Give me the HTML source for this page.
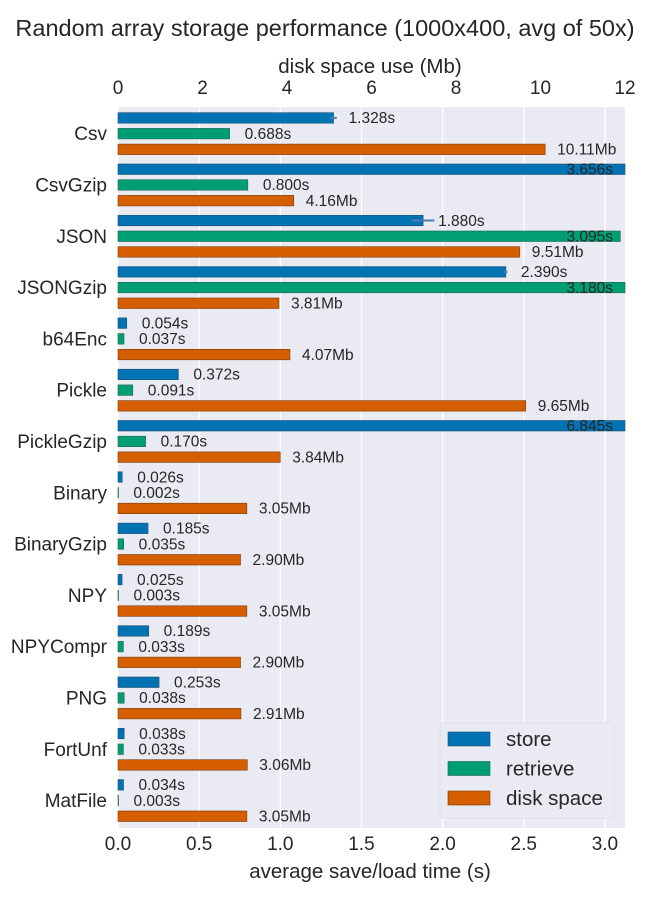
<!DOCTYPE html>
<html><head><meta charset="utf-8"><style>
body{margin:0;background:#fff;font-family:"Liberation Sans","DejaVu Sans",sans-serif}
svg text{font-family:"Liberation Sans","DejaVu Sans",sans-serif;fill:#262626}
</style></head><body>
<svg id="c" width="650" height="900"></svg>
<script>
const categories=["Csv","CsvGzip","JSON","JSONGzip","b64Enc","Pickle","PickleGzip","Binary","BinaryGzip","NPY","NPYCompr","PNG","FortUnf","MatFile"];
const storeVals=[1.328,3.656,1.880,2.390,0.054,0.372,6.845,0.026,0.185,0.025,0.189,0.253,0.038,0.034];
const retrieveVals=[0.688,0.800,3.095,3.180,0.037,0.091,0.170,0.002,0.035,0.003,0.033,0.038,0.033,0.003];
const diskVals=[10.11,4.16,9.51,3.81,4.07,9.65,3.84,3.05,2.90,3.05,2.90,2.91,3.06,3.05];
const timeTicks=[0,0.5,1.0,1.5,2.0,2.5,3.0];
const diskTicks=[0,2,4,6,8,10,12];
const storeErr=[0.02,0,0.07,0.01,0,0,0,0,0,0,0,0,0,0];

const L=118,R=625,T=107,B=828;
const tMax=(R-L)/162.3;
const xs=v=>L+v*(R-L)/tMax;
const xd=v=>L+v*(R-L)/12;
const gy=i=>133.7+i*51.3;
const svg=document.getElementById('c');const NS="http://www.w3.org/2000/svg";
function mk(tag,a,txt){const e=document.createElementNS(NS,tag);for(const k in a)e.setAttribute(k,a[k]);if(txt!==undefined)e.textContent=txt;svg.appendChild(e);return e;}
let e;
e=mk('rect',{x:L,y:T,width:R-L,height:B-T,fill:'#eaeaf2'});

timeTicks.forEach(t=>{
e=mk('line',{x1:xs(t),x2:xs(t),y1:T,y2:B,stroke:'#fff','stroke-width':1.3});

e=mk('text',{x:xs(t),y:850,'font-size':19,'text-anchor':'middle'},t.toFixed(1));

});
diskTicks.forEach(t=>{
e=mk('text',{x:xd(t),y:94,'font-size':19,'text-anchor':'middle'},String(t));

});
const colors=['#0173b2','#029e73','#d55e00'];
const strokes=['#1f4f74','#1f6650','#7a3a0a'];
categories.forEach((c,i)=>{
const cy=gy(i);
e=mk('text',{x:107,y:cy+6.5,'font-size':19,'text-anchor':'end'},c);

const rows=[[storeVals[i],xs,'s',3],[retrieveVals[i],xs,'s',3],[diskVals[i],xd,'Mb',2]];
rows.forEach((r,j)=>{
const y=cy-21+j*15.7;
const x2=Math.min(r[1](r[0]),R);
e=mk('rect',{x:L,y:y,width:Math.max(x2-L,0.5),height:10.5,fill:colors[j],stroke:strokes[j],'stroke-width':0.6});

if(j===0&&storeErr[i]>0&&x2<R){
e=mk('line',{x1:xs(r[0]-storeErr[i]),x2:xs(r[0]+storeErr[i]),y1:y+5.2,y2:y+5.2,stroke:'#4a7fb0','stroke-width':2});

}
const label=r[0].toFixed(r[3])+r[2];
let tx=x2+(j===2?12:15),anchor='start';
if(tx+52>R){tx=613;anchor='end';}
e=mk('text',{x:tx,y:y+10.5,'font-size':15.5,'text-anchor':anchor},label);

});
});
e=mk('text',{x:325,y:36,'font-size':23.5,'text-anchor':'middle'},'Random array storage performance (1000x400, avg of 50x)');

e=mk('text',{x:370,y:73,'font-size':20.5,'text-anchor':'middle'},'disk space use (Mb)');

e=mk('text',{x:370,y:878,'font-size':20.5,'text-anchor':'middle'},'average save/load time (s)');

e=mk('rect',{x:440,y:723,width:174,height:95,fill:'#eaeaf2',stroke:'#e0e0ea',rx:3});

['store','retrieve','disk space'].forEach((n,j)=>{
const y=732+j*29.5;
e=mk('rect',{x:448,y:y,width:42,height:14,fill:colors[j],stroke:strokes[j],'stroke-width':0.6});

e=mk('text',{x:506,y:y+14,'font-size':20.5},n);

});
</script>
</body></html>
